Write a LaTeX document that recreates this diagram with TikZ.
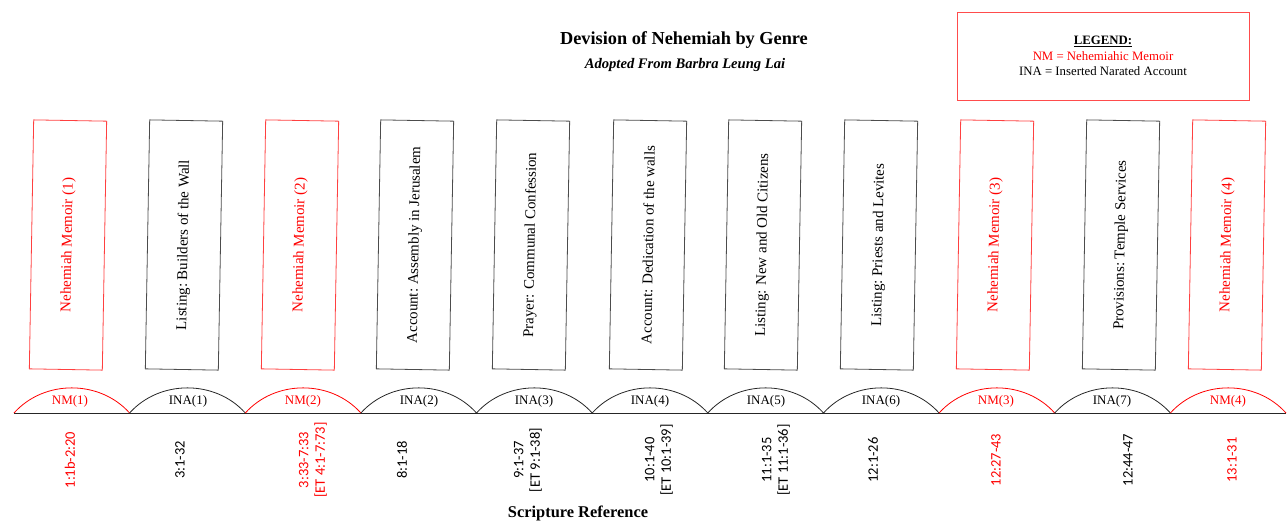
\documentclass[tikz,border=0pt]{standalone}
\usepackage{fontspec}
\setmainfont{Liberation Serif}
\newfontfamily\refsans{Carlito}

\begin{document}
\begin{tikzpicture}[x=1pt, y=-1pt,
	genre/.style = {% genre box, text reads upwards
		rectangle, draw, line width=0.8pt, rotate=89, inner sep=0pt,
		minimum width=249pt, minimum height=73pt,
		font=\fontsize{14.9}{17}\selectfont},
	nm/.style  = {genre, draw=red!75, text=red},
	ina/.style = {genre, draw=black!70},
	nmarc/.style  = {red, line width=0.8pt},
	inaarc/.style = {black!85, line width=0.8pt},
	tag/.style = {inner sep=1pt, font=\fontsize{13}{15}\selectfont},
	ref/.style = {rotate=90, align=center, inner sep=1pt,
		font=\refsans\fontsize{14.5}{16.5}\selectfont},
	legend/.style = {rectangle, draw=red!70, line width=1pt, align=center,
		minimum width=292pt, minimum height=88pt,
		font=\fontsize{12.8}{15.5}\selectfont}]

\useasboundingbox (0,0) rectangle (1288,523);

% headings
\node[font=\bfseries\fontsize{18.3}{20}\selectfont] (title) at (684,40) {Devision of Nehemiah by Genre};
\node[font=\bfseries\itshape\fontsize{14.6}{17}\selectfont] (subtitle) at (685,65) {Adopted From Barbra Leung Lai};
\node[legend] (key) at (1103,56) {\underline{\textbf{LEGEND:}}\\
	\textcolor{red}{NM = Nehemiahic Memoir}\\
	INA = Inserted Narated Account};

% genre boxes
\node[nm]  (nm1)  at (68,245)   {Nehemiah Memoir (1)};
\node[ina] (ina1) at (184,245)  {Listing:\ Builders of the Wall};
\node[nm]  (nm2)  at (300,245)  {Nehemiah Memoir (2)};
\node[ina] (ina2) at (415,245)  {Account:\ Assembly in Jerusalem};
\node[ina] (ina3) at (531,245)  {Prayer: Communal Confession};
\node[ina] (ina4) at (648,245)  {Account: Dedication of the walls};
\node[ina] (ina5) at (763,245)  {Listing: New and Old Citizens};
\node[ina] (ina6) at (879,245)  {Listing:\ Priests and Levites};
\node[nm]  (nm3)  at (995,245)  {Nehemiah Memoir (3)};
\node[ina] (ina7) at (1121,245) {Provisions:\ Temple Services};
\node[nm]  (nm4)  at (1227,245) {Nehemiah Memoir (4)};

% base line and arcs
\coordinate (p0)  at (14,413);
\coordinate (p1)  at (129.6,413);
\coordinate (p2)  at (245.3,413);
\coordinate (p3)  at (360.9,413);
\coordinate (p4)  at (476.5,413);
\coordinate (p5)  at (592.2,413);
\coordinate (p6)  at (707.8,413);
\coordinate (p7)  at (823.5,413);
\coordinate (p8)  at (939.1,413);
\coordinate (p9)  at (1054.7,413);
\coordinate (p10) at (1170.4,413);
\coordinate (p11) at (1286,413);
\draw[black!85, line width=0.8pt] (p0) -- (p11);

\draw[nmarc]  (p0)  .. controls +(30,-33.5) and +(-30,-33.5) .. (p1);
\draw[inaarc] (p1)  .. controls +(30,-33.5) and +(-30,-33.5) .. (p2);
\draw[nmarc]  (p2)  .. controls +(30,-33.5) and +(-30,-33.5) .. (p3);
\draw[inaarc] (p3)  .. controls +(30,-33.5) and +(-30,-33.5) .. (p4);
\draw[inaarc] (p4)  .. controls +(30,-33.5) and +(-30,-33.5) .. (p5);
\draw[inaarc] (p5)  .. controls +(30,-33.5) and +(-30,-33.5) .. (p6);
\draw[inaarc] (p6)  .. controls +(30,-33.5) and +(-30,-33.5) .. (p7);
\draw[inaarc] (p7)  .. controls +(30,-33.5) and +(-30,-33.5) .. (p8);
\draw[nmarc]  (p8)  .. controls +(30,-33.5) and +(-30,-33.5) .. (p9);
\draw[inaarc] (p9)  .. controls +(30,-33.5) and +(-30,-33.5) .. (p10);
\draw[nmarc]  (p10) .. controls +(30,-33.5) and +(-30,-33.5) .. (p11);

\node[tag, red] (t1)  at (70,401)   {NM(1)};
\node[tag]      (t2)  at (188,401)  {INA(1)};
\node[tag, red] (t3)  at (303,401)  {NM(2)};
\node[tag]      (t4)  at (419,401)  {INA(2)};
\node[tag]      (t5)  at (534,401)  {INA(3)};
\node[tag]      (t6)  at (650,401)  {INA(4)};
\node[tag]      (t7)  at (766,401)  {INA(5)};
\node[tag]      (t8)  at (881,401)  {INA(6)};
\node[tag, red] (t9)  at (996,401)  {NM(3)};
\node[tag]      (t10) at (1112,401) {INA(7)};
\node[tag, red] (t11) at (1228,401) {NM(4)};

% scripture references
\node[ref, red] (r1)  at (70,460)   {1:1b-2:20};
\node[ref]      (r2)  at (180,460)  {3:1-32};
\node[ref, red] (r3)  at (313,460)  {3:33-7:33\\{[ET 4:1-7:73]}};
\node[ref]      (r4)  at (402,460)  {8:1-18};
\node[ref]      (r5)  at (528,460)  {9:1-37\\{[ET 9:1-38]}};
\node[ref]      (r6)  at (659,460)  {10:1-40\\{[ET 10:1-39]}};
\node[ref]      (r7)  at (776,460)  {11:1-35\\{[ET 11:1-36]}};
\node[ref]      (r8)  at (873,460)  {12:1-26};
\node[ref, red] (r9)  at (996,460)  {12:27-43};
\node[ref]      (r10) at (1128,460) {12:44-47};
\node[ref, red] (r11) at (1232,460) {13:1-31};

\node[font=\bfseries\fontsize{16.4}{18}\selectfont] (scripture) at (578,513) {Scripture Reference};
\end{tikzpicture}
\end{document}
